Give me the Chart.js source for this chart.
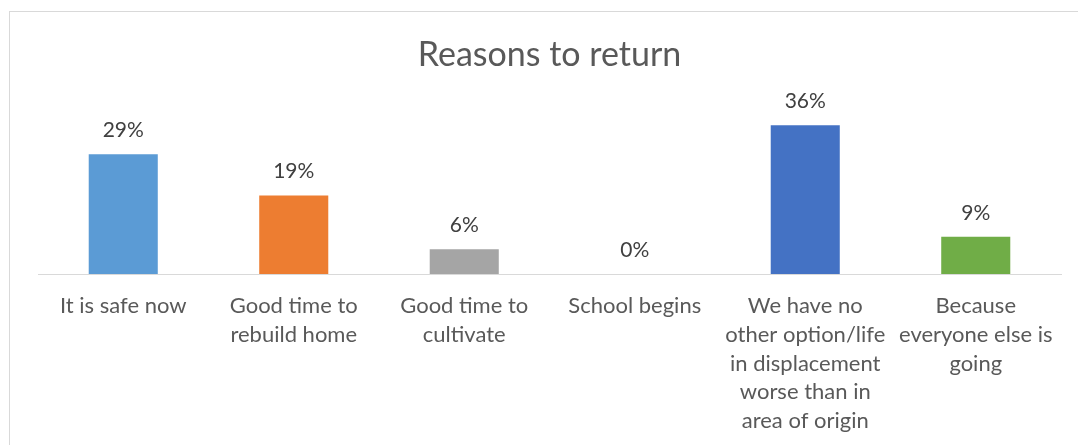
<!DOCTYPE html>
<html>
<head>
<meta charset="utf-8">
<script src="https://cdn.jsdelivr.net/npm/chart.js@4"></script>
<style>
  html, body { margin: 0; padding: 0; background: #fff; overflow: hidden; }
  #wrap { position: relative; width: 1078px; height: 445px; }
  #frame {
    position: absolute; left: 9px; top: 11px; width: 1090px; height: 460px;
    border: 1px solid #d9d9d9; box-sizing: border-box;
  }
  canvas { position: absolute; left: 0; top: 0; }
</style>
</head>
<body>
<div id="wrap">
  <div id="frame"></div>
  <canvas id="reasonsChart" width="1078" height="445"></canvas>
</div>
<script>
const categories = [
    ['It is safe now'],
    ['Good time to', 'rebuild home'],
    ['Good time to', 'cultivate'],
    ['School begins'],
    ['We have no', 'other option/life', 'in displacement', 'worse than in', 'area of origin'],
    ['Because', 'everyone else is', 'going']
];
const percentages = [29, 19, 6, 0, 36, 9];
const barColors = ['#5B9BD5', '#ED7D31', '#A5A5A5', '#FFC000', '#4472C4', '#70AD47'];

const fontFamily = 'Lato, "Open Sans", sans-serif';

// Percent labels above each bar
const valueLabels = {
    id: 'valueLabels',
    afterDatasetsDraw(chart) {
        const ctx = chart.ctx;
        const meta = chart.getDatasetMeta(0);
        ctx.save();
        ctx.font = '21px ' + fontFamily;
        ctx.fillStyle = '#404040';
        ctx.textAlign = 'center';
        ctx.textBaseline = 'middle';
        meta.data.forEach(function(bar, i) {
            ctx.fillText(percentages[i] + '%', bar.x, bar.y - 24);
        });
        ctx.restore();
    }
};

document.addEventListener('DOMContentLoaded', function() {
    const ctx = document.getElementById('reasonsChart').getContext('2d');
    new Chart(ctx, {
        type: 'bar',
        data: {
            labels: categories,
            datasets: [{
                data: percentages,
                backgroundColor: barColors,
                borderWidth: 0,
                barPercentage: 0.405,
                categoryPercentage: 1
            }]
        },
        options: {
            responsive: false,
            animation: false,
            layout: {
                padding: { left: 38, right: 17, top: 0, bottom: 10 }
            },
            plugins: {
                legend: { display: false },
                tooltip: { enabled: false },
                title: {
                    display: true,
                    text: 'Reasons to return',
                    color: '#595959',
                    font: { family: fontFamily, size: 34, weight: 'normal', lineHeight: 1.2 },
                    padding: { top: 35, bottom: 33 }
                }
            },
            scales: {
                x: {
                    // tick marks stay hidden, tickLength only spaces the labels
                    grid: { display: false, drawTicks: true, tickLength: 18 },
                    border: { display: true, color: '#d9d9d9', width: 1 },
                    ticks: {
                        color: '#595959',
                        font: { family: fontFamily, size: 22, lineHeight: 1.3 },
                        padding: 0,
                        maxRotation: 0,
                        autoSkip: false
                    }
                },
                y: {
                    display: false,
                    min: 0,
                    max: 40
                }
            }
        },
        plugins: [valueLabels]
    });
});
</script>
</body>
</html>
